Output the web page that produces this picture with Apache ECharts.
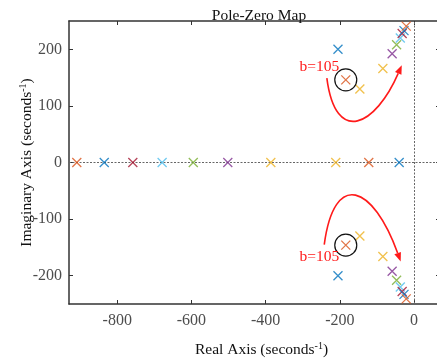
<!DOCTYPE html>
<html>
<head>
<meta charset="utf-8">
<script src="https://cdn.jsdelivr.net/npm/echarts@6/dist/echarts.min.js"></script>
<style>
html,body{margin:0;padding:0;background:#fff;}
#chart{width:437px;height:358px;}
</style>
</head>
<body>
<div id="chart"></div>
<script>
// ---- Data ----
const xTicks = [-800, -600, -400, -200, 0];
const yTicks = [-200, -100, 0, 100, 200];
const seriesColors = ['#0072BD', '#D95319', '#EDB120', '#EDB120', '#7E2F8E', '#77AC30', '#4DBEEE', '#A2142F', '#0072BD', '#D95319'];
const realPoles = [-40, -122, -211, -386, -502, -595, -679, -758, -835, -909];
const complexRe = [-205, -184, -146, -84, -59, -47, -37, -32, -27, -21];
const complexIm = [200, 146, 130, 166, 192, 208, 220, 228, 233, 241];

// annotation geometry (data coords)
const circledPole = [-184, 146];
const labelUpper = [-250, 169];
const labelLower = [-250, -166];
const arrowUpper = [[-235, 149], [-211, 28], [-103, 66], [-33, 172]];
const arrowLower = [[-242, -145], [-215, -12], [-110, -40], [-36, -175]];

const XMIN = -930, XMAX = 70, YMIN = -250, YMAX = 250;

const crossPath = 'path://M0,0L10,10M10,0L0,10';
const axisColor = '#333333';
const tickLabelColor = '#4d4d4d';
const serif = '"Liberation Serif", "Times New Roman", serif';
const red = '#ff1a1a';

const chart = echarts.init(document.getElementById('chart'), null, {renderer: 'canvas'});

const poleSeries = realPoles.map((r, i) => ({
  type: 'scatter',
  symbol: crossPath,
  symbolSize: 9,
  itemStyle: {color: 'rgba(0,0,0,0)', borderColor: seriesColors[i], borderWidth: 1.3},
  data: [[r, 0], [complexRe[i], complexIm[i]], [complexRe[i], -complexIm[i]]],
  z: 5,
  silent: true
}));

function renderAnnot(params, api) {
  const children = [];
  [arrowUpper, arrowLower].forEach(pts => {
    const p = pts.map(d => api.coord(d));
    const dx = p[3][0] - p[2][0], dy = p[3][1] - p[2][1];
    const len = Math.sqrt(dx * dx + dy * dy);
    const ux = dx / len, uy = dy / len;
    const headL = 9, headW = 3.5;
    const base = [p[3][0] - ux * headL, p[3][1] - uy * headL];
    children.push({
      type: 'bezierCurve',
      shape: {x1: p[0][0], y1: p[0][1], cpx1: p[1][0], cpy1: p[1][1], cpx2: p[2][0], cpy2: p[2][1], x2: base[0], y2: base[1]},
      style: {stroke: red, lineWidth: 1.6, fill: null}
    });
    children.push({
      type: 'polygon',
      shape: {points: [p[3], [base[0] - uy * headW, base[1] + ux * headW], [base[0] + uy * headW, base[1] - ux * headW]]},
      style: {fill: red}
    });
  });
  [circledPole, [circledPole[0], -circledPole[1]]].forEach(c => {
    const pc = api.coord(c);
    children.push({type: 'circle', shape: {cx: pc[0], cy: pc[1], r: 11}, style: {stroke: '#111', lineWidth: 1.2, fill: null}});
  });
  [labelUpper, labelLower].forEach(l => {
    const pl = api.coord(l);
    children.push({type: 'text', x: pl[0] + 18, y: pl[1], style: {text: 'b=105', fill: red, font: '15.5px ' + serif, align: 'right', verticalAlign: 'middle'}});
  });
  return {type: 'group', children};
}

const nameRich = {
  n: {fontFamily: serif, fontSize: 15.5, color: '#111'},
  s: {fontFamily: serif, fontSize: 10, color: '#111', verticalAlign: 'top', padding: [0, 0, 8, 0]}
};

const option = {
  animation: false,
  backgroundColor: '#fff',
  title: {
    text: 'Pole-Zero Map',
    left: 254, top: 3, textAlign: 'center',
    textStyle: {fontFamily: serif, fontSize: 15.5, fontWeight: 'normal', color: '#111'}
  },
  grid: {left: 69, top: 21, width: 371, height: 283, containLabel: false, outerBoundsMode: 'none'},
  xAxis: [{
    type: 'value', min: XMIN, max: XMAX, position: 'bottom',
    axisLine: {show: true, onZero: false, lineStyle: {color: axisColor, width: 1.5}},
    axisTick: {show: true, inside: true, length: 4, customValues: xTicks, lineStyle: {color: axisColor}},
    axisLabel: {customValues: xTicks, color: tickLabelColor, fontFamily: serif, fontSize: 16, margin: 9},
    splitLine: {show: false},
    name: '{n|Real Axis (seconds}{s|-1}{n|)}',
    nameLocation: 'middle', nameGap: 37, nameMoveOverlap: false,
    nameTextStyle: {rich: nameRich, padding: [0, 0, 0, 14]}
  }, {
    type: 'value', min: XMIN, max: XMAX, position: 'top',
    axisLine: {show: true, onZero: false, lineStyle: {color: axisColor, width: 1.5}},
    axisTick: {show: true, inside: true, length: 4, customValues: xTicks, lineStyle: {color: axisColor}},
    axisLabel: {show: false},
    splitLine: {show: false}
  }],
  yAxis: [{
    type: 'value', min: YMIN, max: YMAX, position: 'left',
    axisLine: {show: true, onZero: false, lineStyle: {color: axisColor, width: 1.5}},
    axisTick: {show: true, inside: true, length: 4, customValues: yTicks, lineStyle: {color: axisColor}},
    axisLabel: {customValues: yTicks, color: tickLabelColor, fontFamily: serif, fontSize: 16, margin: 7},
    splitLine: {show: false},
    name: '{n|Imaginary Axis (seconds}{s|-1}{n|)}',
    nameLocation: 'middle', nameGap: 33, nameRotate: 90, nameMoveOverlap: false,
    nameTextStyle: {rich: nameRich}
  }, {
    type: 'value', min: YMIN, max: YMAX, position: 'right',
    axisLine: {show: true, onZero: false, lineStyle: {color: axisColor, width: 1.5}},
    axisTick: {show: true, inside: true, length: 4, customValues: yTicks, lineStyle: {color: axisColor}},
    axisLabel: {show: false},
    splitLine: {show: false}
  }],
  series: [{
    type: 'line', data: [], silent: true,
    markLine: {
      silent: true, symbol: 'none', animation: false,
      label: {show: false},
      lineStyle: {type: [2, 1.5], color: '#666', width: 1},
      data: [{xAxis: 0}, {yAxis: 0}]
    }
  }].concat(poleSeries).concat([{
    type: 'custom',
    renderItem: renderAnnot,
    data: [[0, 0]],
    silent: true,
    z: 6,
    clip: false
  }])
};

chart.setOption(option);
</script>
</body>
</html>
